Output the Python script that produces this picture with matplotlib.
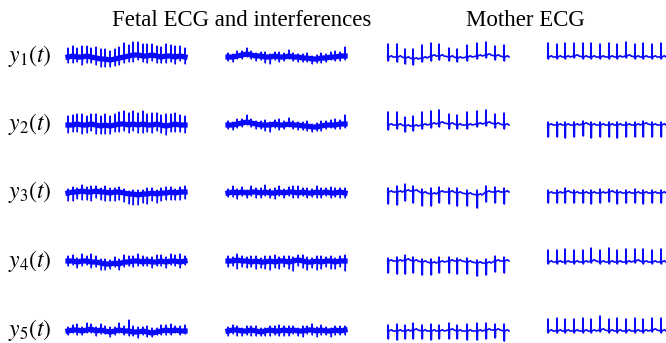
import numpy as np
import matplotlib.pyplot as plt

plt.rcParams['mathtext.fontset'] = 'stix'
plt.rcParams['font.family'] = ['Liberation Serif', 'DejaVu Serif']

W, H = 666, 343
COLOR = '#0a0aff'

# beat positions (px from the left edge of each panel)
FETAL_BEATS = [1, 6, 10, 15, 20, 24, 29, 34, 38, 43, 48, 52, 57, 62, 66, 71,
               76, 80, 85, 90, 94, 99, 104, 108, 113, 118]
MOTHER_BEATS_A = [1, 10, 18, 26, 35, 44, 52, 62, 70, 80, 90, 99, 108, 117]
MOTHER_BEATS_B = [2, 11, 19, 28, 37, 45, 54, 63, 71, 80, 89, 97, 106, 115]

ROW_LABELS = ['$y_1(t)$', '$y_2(t)$', '$y_3(t)$', '$y_4(t)$', '$y_5(t)$']

# column 1: fetal ECG, clear beats
C1_BASE = [
    [0, 1, 0, 0, 1, 0, -1, -2, -2, -3, -2, -1, 0, 1, 2, 2, 1, 1, 2, 1, 0, 1, 1, 0, 1, 0],
    [0, 0, 1, 0, 0, 1, 0, -1, 0, -1, 0, 1, 1, 0, 1, 0, 1, 0, 0, 1, 0, -1, 0, 1, 0, 0],
    [0, 1, 1, 2, 1, 1, 2, 1, 1, 0, 1, 1, 0, -1, -1, -2, -1, -1, 0, -1, 0, 0, 1, 0, 1, 1],
    [1, 1, 0, 1, 1, 0, 0, -1, -2, -2, -1, -2, 0, 0, 1, 1, 0, 1, 0, 0, 1, 0, 1, 1, 0, 1],
    [0, 1, 1, 0, 1, 2, 0, 1, 0, -1, 0, 1, 0, 0, -1, -1, 0, -1, -2, -1, 0, 1, 0, 1, 0, 0],
]
C1_UP = [
    [9, 10, 9, 11, 10, 9, 11, 10, 10, 9, 10, 11, 14, 11, 13, 13, 12, 12, 11, 10, 10, 12, 11, 11, 10, 9],
    [9, 10, 10, 11, 9, 10, 11, 10, 11, 10, 11, 12, 13, 12, 13, 12, 13, 11, 12, 11, 10, 12, 11, 11, 10, 9],
    [4, 5, 4, 6, 5, 6, 5, 4, 6, 5, 4, 5, 4, 3, 4, 5, 4, 6, 5, 4, 5, 6, 5, 4, 5, 6],
    [5, 6, 4, 7, 5, 8, 6, 4, 5, 4, 6, 5, 7, 6, 5, 7, 6, 4, 5, 7, 6, 5, 7, 6, 8, 5],
    [4, 5, 6, 4, 7, 5, 4, 6, 5, 5, 4, 7, 5, 11, 6, 5, 4, 6, 5, 4, 6, 5, 7, 4, 5, 6],
]
C1_DOWN = [
    [6, 7, 5, 8, 7, 6, 7, 8, 8, 7, 7, 7, 6, 6, 7, 5, 6, 7, 6, 7, 6, 7, 6, 7, 5, 7],
    [8, 7, 8, 9, 8, 7, 9, 8, 9, 8, 7, 8, 7, 8, 7, 8, 9, 7, 8, 7, 8, 9, 7, 8, 7, 8],
    [8, 9, 7, 9, 8, 9, 7, 8, 9, 8, 9, 8, 9, 10, 11, 10, 9, 10, 8, 9, 8, 7, 8, 7, 8, 7],
    [5, 4, 6, 5, 4, 6, 5, 7, 6, 5, 4, 6, 5, 4, 6, 5, 4, 5, 6, 4, 5, 6, 4, 5, 6, 4],
    [4, 3, 5, 4, 3, 4, 5, 4, 3, 5, 4, 3, 4, 5, 4, 6, 4, 5, 4, 3, 4, 5, 4, 3, 4, 3],
]

# column 2: fetal ECG buried in interference
C2_BASE = [
    [0, 0, 1, 2, 3, 2, 1, 1, 0, 0, 1, 0, 0, 1, 0, 0, -1, -1, -2, -2, -1, -1, 0, 0, 1, 1],
    [0, 0, 1, 2, 3, 2, 1, 0, 0, 0, 1, 0, 0, 1, 0, 0, -1, -1, -2, -2, -1, 0, 0, 0, 1, 1],
    [0, 1, 0, 1, 0, 1, 1, 0, 1, 0, 0, 1, 0, 1, 1, 0, 1, 0, 0, 1, 0, 1, 0, 0, 1, 0],
    [1, 1, 2, 1, 1, 0, 1, 0, 0, 1, 0, 1, 1, 0, 1, 2, 1, 0, 0, 1, 0, 1, 1, 0, 1, 1],
    [0, 1, 1, 0, 0, 1, 0, -1, 0, 1, 0, 0, 1, 0, 1, 0, 0, 1, 1, 0, 1, 0, 0, 1, 0, 1],
]
C2_UP = [
    [4, 3, 5, 4, 6, 4, 3, 4, 5, 3, 4, 5, 4, 6, 4, 3, 4, 5, 3, 4, 5, 4, 5, 6, 4, 9],
    [4, 3, 5, 4, 7, 4, 3, 4, 5, 3, 4, 6, 4, 6, 4, 3, 4, 5, 3, 4, 5, 4, 5, 6, 4, 9],
    [4, 6, 4, 5, 3, 6, 4, 5, 7, 4, 5, 6, 4, 5, 6, 7, 4, 5, 4, 6, 5, 4, 6, 5, 4, 5],
    [5, 4, 6, 5, 4, 6, 5, 4, 6, 5, 7, 4, 5, 6, 4, 5, 6, 5, 4, 5, 6, 4, 5, 4, 5, 6],
    [4, 5, 4, 3, 5, 4, 5, 4, 3, 4, 5, 6, 4, 5, 4, 3, 5, 4, 6, 4, 5, 4, 3, 4, 5, 4],
]
C2_DOWN = [
    [4, 5, 3, 4, 3, 4, 5, 4, 6, 7, 4, 5, 4, 3, 4, 5, 4, 4, 5, 4, 5, 4, 3, 4, 5, 4],
    [4, 5, 4, 4, 3, 4, 5, 4, 6, 7, 4, 5, 4, 3, 4, 5, 4, 5, 5, 4, 5, 4, 3, 4, 5, 4],
    [4, 5, 6, 4, 5, 4, 6, 5, 4, 5, 6, 4, 5, 4, 6, 5, 4, 5, 4, 6, 5, 4, 5, 4, 6, 5],
    [6, 5, 9, 6, 7, 5, 8, 6, 7, 9, 6, 8, 6, 7, 10, 6, 7, 8, 6, 9, 7, 6, 8, 7, 6, 10],
    [5, 4, 6, 5, 4, 6, 5, 4, 5, 6, 4, 5, 6, 5, 4, 5, 6, 4, 5, 6, 5, 4, 6, 5, 4, 5],
]

# column 3: mother ECG, first segment
C3_BASE = [
    [0, 0, -1, -2, -1, 1, 1, 0, -1, 0, 1, 2, 1, 0],
    [0, 0, -1, -1, 0, 1, 2, 1, 0, 0, 1, 2, 1, 0],
    [1, 1, 2, 2, 0, -1, 1, 1, 0, -1, -2, 1, 1, 1],
    [1, 1, 2, 1, 0, -1, 0, 1, 1, 0, -1, -1, 1, 1],
    [0, 0, 0, 1, 0, 0, 0, 1, 0, 0, 0, 1, 1, 0],
]
C3_UP = [
    [13, 13, 9, 10, 13, 13, 12, 9, 9, 12, 13, 13, 10, 12],
    [13, 13, 9, 10, 13, 13, 13, 10, 10, 13, 13, 13, 10, 12],
    [4, 6, 7, 5, 4, 6, 5, 4, 5, 4, 5, 6, 5, 4],
    [3, 4, 5, 4, 3, 4, 5, 4, 3, 4, 3, 4, 5, 4],
    [6, 7, 6, 7, 6, 7, 6, 7, 6, 7, 8, 7, 6, 7],
]
C3_DOWN = [
    [4, 5, 6, 6, 4, 5, 4, 4, 4, 4, 3, 3, 4, 4],
    [5, 4, 6, 5, 4, 4, 4, 5, 4, 4, 3, 3, 4, 4],
    [12, 13, 10, 12, 13, 12, 11, 12, 13, 12, 13, 10, 11, 12],
    [12, 13, 14, 12, 13, 12, 11, 12, 13, 12, 13, 12, 11, 12],
    [8, 9, 8, 9, 8, 9, 8, 9, 8, 9, 9, 9, 8, 10],
]

# column 4: mother ECG, second segment
C4_BASE = [
    [0, 0, 0, 1, 0, 0, 0, 0, 0, 1, 0, 0, 0, 0],
    [0, 0, 0, 0, 1, 0, 0, 0, 0, 0, 0, 1, 0, 0],
    [0, 0, 1, 0, 0, 0, 0, 1, 0, 0, 0, 0, 0, 0],
    [0, 0, 0, 0, 0, 1, 0, 0, 0, 0, 1, 0, 0, 0],
    [0, 0, 0, 0, 0, 0, 1, 0, 0, 0, 0, 0, 1, 0],
]
C4_UP = [
    [14, 13, 14, 13, 14, 14, 13, 14, 13, 14, 13, 14, 13, 14],
    [3, 3, 3, 3, 3, 3, 3, 3, 3, 3, 3, 3, 3, 3],
    [3, 3, 4, 3, 3, 3, 4, 3, 3, 3, 4, 3, 3, 3],
    [12, 12, 13, 12, 12, 13, 12, 14, 12, 13, 12, 13, 12, 13],
    [12, 13, 12, 12, 13, 12, 14, 12, 13, 12, 13, 12, 12, 13],
]
C4_DOWN = [
    [2, 2, 2, 2, 2, 2, 2, 2, 2, 2, 2, 2, 2, 2],
    [12, 12, 13, 12, 12, 13, 12, 12, 13, 12, 12, 13, 12, 12],
    [10, 10, 11, 10, 10, 11, 10, 10, 11, 10, 10, 11, 10, 10],
    [2, 2, 2, 2, 2, 2, 2, 2, 2, 2, 2, 2, 2, 2],
    [2, 2, 2, 2, 2, 2, 2, 2, 2, 2, 2, 2, 2, 2],
]

COLUMNS = [
    (FETAL_BEATS, C1_BASE, C1_UP, C1_DOWN, True),
    (FETAL_BEATS, C2_BASE, C2_UP, C2_DOWN, True),
    (MOTHER_BEATS_A, C3_BASE, C3_UP, C3_DOWN, False),
    (MOTHER_BEATS_B, C4_BASE, C4_UP, C4_DOWN, False),
]

COL_LEFT = [67, 227, 387, 546]   # px
COL_WIDTH = 122
ROW_CENTER = [57, 125, 193, 262, 331]
PANEL_H = 36


def trace(beats, base, up, down, fetal):
    xs, ys = [], []
    for t, b, u, d in zip(beats, base, up, down):
        xs += [t - 0.3, t, t + 0.3, t + 0.6]
        ys += [b, b + u, b - d, b]
        if not fetal:
            xs += [t + 3.5, t + 5.0]
            ys += [b + 1.2, b]
    return np.array(xs), np.array(ys)


fig = plt.figure(figsize=(W / 100, H / 100), dpi=100)

for c, (beats, bases, ups, downs, fetal) in enumerate(COLUMNS):
    for r in range(5):
        ax = fig.add_axes([COL_LEFT[c] / W, 1 - (ROW_CENTER[r] + PANEL_H / 2) / H,
                           COL_WIDTH / W, PANEL_H / H])
        x, y = trace(beats, bases[r], ups[r], downs[r], fetal)
        if fetal:
            # dense interference band under the beats
            ax.plot(beats, bases[r], color=COLOR, lw=3.8, solid_joinstyle='miter',
                    clip_on=False)
        ax.plot(x, y, color=COLOR, lw=1.0 if fetal else 1.2, clip_on=False)
        ax.set_xlim(0, COL_WIDTH)
        ax.set_ylim(-PANEL_H / 2, PANEL_H / 2)
        ax.axis('off')

for r, lab in enumerate(ROW_LABELS):
    fig.text(8 / W, 1 - (ROW_CENTER[r] - 1) / H, lab, fontsize=17, ha='left',
             va='center')

fig.text(242 / W, 1 - 21 / H, 'Fetal ECG and interferences', fontsize=16.5,
         ha='center', va='center')
fig.text(525 / W, 1 - 21 / H, 'Mother ECG', fontsize=16.5, ha='center', va='center')

fig.savefig('out.png', dpi=100)
